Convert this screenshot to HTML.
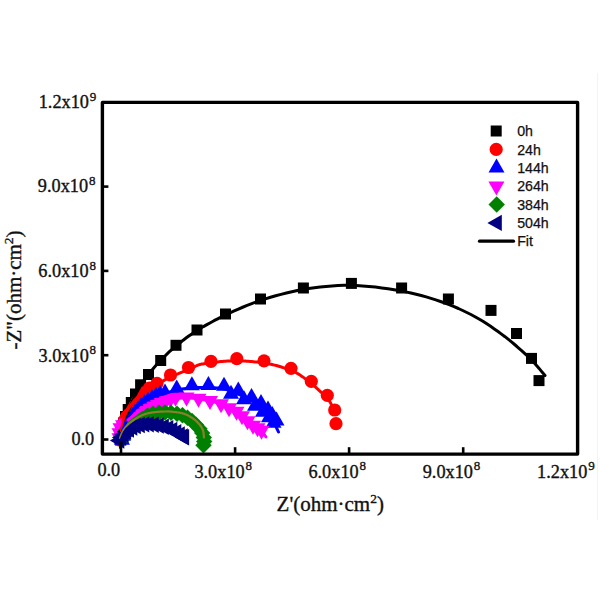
<!DOCTYPE html>
<html><head><meta charset="utf-8"><style>
html,body{margin:0;padding:0;background:#fff;}
svg{display:block;}
.serif text{font-family:"Liberation Serif",serif;}
.sans text{font-family:"Liberation Sans",sans-serif;}
</style></head><body>
<svg width="600" height="600" viewBox="0 0 600 600">
<rect width="600" height="600" fill="#fff"/>
<line x1="597.5" y1="73" x2="597.5" y2="520" stroke="#f3f3f3" stroke-width="1"/>
<g><g><rect x="115.0" y="434.5" width="11.0" height="11.0" fill="#000000"/><rect x="115.5" y="429.5" width="11.0" height="11.0" fill="#000000"/><rect x="116.5" y="424.0" width="11.0" height="11.0" fill="#000000"/><rect x="118.0" y="417.5" width="11.0" height="11.0" fill="#000000"/><rect x="120.0" y="411.0" width="11.0" height="11.0" fill="#000000"/><rect x="122.7" y="404.0" width="11.0" height="11.0" fill="#000000"/><rect x="125.8" y="397.0" width="11.0" height="11.0" fill="#000000"/><rect x="130.0" y="388.5" width="11.0" height="11.0" fill="#000000"/><rect x="135.1" y="379.3" width="11.0" height="11.0" fill="#000000"/><rect x="143.0" y="369.0" width="11.0" height="11.0" fill="#000000"/><rect x="155.2" y="355.0" width="11.0" height="11.0" fill="#000000"/><rect x="170.5" y="339.8" width="11.0" height="11.0" fill="#000000"/><rect x="191.5" y="324.5" width="11.0" height="11.0" fill="#000000"/><rect x="220.0" y="308.5" width="11.0" height="11.0" fill="#000000"/><rect x="255.0" y="293.5" width="11.0" height="11.0" fill="#000000"/><rect x="297.9" y="282.5" width="11.0" height="11.0" fill="#000000"/><rect x="345.9" y="277.9" width="11.0" height="11.0" fill="#000000"/><rect x="396.1" y="282.5" width="11.0" height="11.0" fill="#000000"/><rect x="442.9" y="293.5" width="11.0" height="11.0" fill="#000000"/><rect x="485.5" y="304.9" width="11.0" height="11.0" fill="#000000"/><rect x="511.0" y="328.0" width="11.0" height="11.0" fill="#000000"/><rect x="526.0" y="352.9" width="11.0" height="11.0" fill="#000000"/><rect x="533.5" y="375.1" width="11.0" height="11.0" fill="#000000"/></g>
<g><circle cx="120.0" cy="440.0" r="6.6" fill="#ff0000"/><circle cx="120.2" cy="436.0" r="6.6" fill="#ff0000"/><circle cx="120.8" cy="432.0" r="6.6" fill="#ff0000"/><circle cx="121.8" cy="428.0" r="6.6" fill="#ff0000"/><circle cx="123.0" cy="424.0" r="6.6" fill="#ff0000"/><circle cx="124.5" cy="420.5" r="6.6" fill="#ff0000"/><circle cx="126.4" cy="417.0" r="6.6" fill="#ff0000"/><circle cx="129.0" cy="414.5" r="6.6" fill="#ff0000"/><circle cx="131.4" cy="412.0" r="6.6" fill="#ff0000"/><circle cx="133.2" cy="409.0" r="6.6" fill="#ff0000"/><circle cx="135.0" cy="406.0" r="6.6" fill="#ff0000"/><circle cx="137.5" cy="401.5" r="6.6" fill="#ff0000"/><circle cx="140.5" cy="397.2" r="6.6" fill="#ff0000"/><circle cx="144.5" cy="392.5" r="6.6" fill="#ff0000"/><circle cx="149.5" cy="388.0" r="6.6" fill="#ff0000"/><circle cx="157.0" cy="383.3" r="6.6" fill="#ff0000"/><circle cx="170.5" cy="375.0" r="6.6" fill="#ff0000"/><circle cx="188.5" cy="367.5" r="6.6" fill="#ff0000"/><circle cx="211.0" cy="361.3" r="6.6" fill="#ff0000"/><circle cx="236.8" cy="358.7" r="6.6" fill="#ff0000"/><circle cx="264.0" cy="360.8" r="6.6" fill="#ff0000"/><circle cx="291.0" cy="368.3" r="6.6" fill="#ff0000"/><circle cx="311.3" cy="381.3" r="6.6" fill="#ff0000"/><circle cx="327.3" cy="395.3" r="6.6" fill="#ff0000"/><circle cx="334.7" cy="410.0" r="6.6" fill="#ff0000"/><circle cx="336.0" cy="423.7" r="6.6" fill="#ff0000"/></g>
<g><path d="M122.0,430.7L130.0,444.7L114.0,444.7Z" fill="#0000ff"/><path d="M123.0,426.7L131.0,440.7L115.0,440.7Z" fill="#0000ff"/><path d="M124.5,422.7L132.5,436.7L116.5,436.7Z" fill="#0000ff"/><path d="M126.0,418.7L134.0,432.7L118.0,432.7Z" fill="#0000ff"/><path d="M128.0,414.7L136.0,428.7L120.0,428.7Z" fill="#0000ff"/><path d="M130.0,410.7L138.0,424.7L122.0,424.7Z" fill="#0000ff"/><path d="M132.5,407.2L140.5,421.2L124.5,421.2Z" fill="#0000ff"/><path d="M135.0,403.7L143.0,417.7L127.0,417.7Z" fill="#0000ff"/><path d="M138.0,400.2L146.0,414.2L130.0,414.2Z" fill="#0000ff"/><path d="M141.0,397.2L149.0,411.2L133.0,411.2Z" fill="#0000ff"/><path d="M144.5,394.2L152.5,408.2L136.5,408.2Z" fill="#0000ff"/><path d="M148.0,391.7L156.0,405.7L140.0,405.7Z" fill="#0000ff"/><path d="M152.0,389.2L160.0,403.2L144.0,403.2Z" fill="#0000ff"/><path d="M156.0,386.7L164.0,400.7L148.0,400.7Z" fill="#0000ff"/><path d="M160.0,385.0L168.0,399.0L152.0,399.0Z" fill="#0000ff"/><path d="M165.0,383.4L173.0,397.4L157.0,397.4Z" fill="#0000ff"/><path d="M176.7,379.6L184.7,393.6L168.7,393.6Z" fill="#0000ff"/><path d="M191.9,376.3L199.9,390.3L183.9,390.3Z" fill="#0000ff"/><path d="M208.4,375.9L216.4,389.9L200.4,389.9Z" fill="#0000ff"/><path d="M224.0,376.8L232.0,390.8L216.0,390.8Z" fill="#0000ff"/><path d="M231.0,384.7L239.0,398.7L223.0,398.7Z" fill="#0000ff"/><path d="M238.3,381.4L246.3,395.4L230.3,395.4Z" fill="#0000ff"/><path d="M244.0,390.2L252.0,404.2L236.0,404.2Z" fill="#0000ff"/><path d="M251.5,387.9L259.5,401.9L243.5,401.9Z" fill="#0000ff"/><path d="M255.0,396.7L263.0,410.7L247.0,410.7Z" fill="#0000ff"/><path d="M261.0,393.9L269.0,407.9L253.0,407.9Z" fill="#0000ff"/><path d="M263.0,402.7L271.0,416.7L255.0,416.7Z" fill="#0000ff"/><path d="M268.0,400.4L276.0,414.4L260.0,414.4Z" fill="#0000ff"/><path d="M269.0,408.2L277.0,422.2L261.0,422.2Z" fill="#0000ff"/><path d="M272.3,405.9L280.3,419.9L264.3,419.9Z" fill="#0000ff"/><path d="M273.5,413.7L281.5,427.7L265.5,427.7Z" fill="#0000ff"/><path d="M276.5,411.4L284.5,425.4L268.5,425.4Z" fill="#0000ff"/></g>
<g><path d="M119.5,447.3L127.5,433.3L111.5,433.3Z" fill="#ff00ff"/><path d="M119.5,442.3L127.5,428.3L111.5,428.3Z" fill="#ff00ff"/><path d="M120.5,437.3L128.5,423.3L112.5,423.3Z" fill="#ff00ff"/><path d="M123.0,434.3L131.0,420.3L115.0,420.3Z" fill="#ff00ff"/><path d="M126.5,432.6L134.5,418.6L118.5,418.6Z" fill="#ff00ff"/><path d="M130.0,431.6L138.0,417.6L122.0,417.6Z" fill="#ff00ff"/><path d="M134.0,428.8L142.0,414.8L126.0,414.8Z" fill="#ff00ff"/><path d="M138.0,425.6L146.0,411.6L130.0,411.6Z" fill="#ff00ff"/><path d="M142.0,422.6L150.0,408.6L134.0,408.6Z" fill="#ff00ff"/><path d="M146.0,420.1L154.0,406.1L138.0,406.1Z" fill="#ff00ff"/><path d="M150.0,417.6L158.0,403.6L142.0,403.6Z" fill="#ff00ff"/><path d="M154.0,415.5L162.0,401.5L146.0,401.5Z" fill="#ff00ff"/><path d="M157.8,413.7L165.8,399.7L149.8,399.7Z" fill="#ff00ff"/><path d="M161.5,411.8L169.5,397.8L153.5,397.8Z" fill="#ff00ff"/><path d="M166.0,409.8L174.0,395.8L158.0,395.8Z" fill="#ff00ff"/><path d="M170.5,408.0L178.5,394.0L162.5,394.0Z" fill="#ff00ff"/><path d="M175.5,406.7L183.5,392.7L167.5,392.7Z" fill="#ff00ff"/><path d="M186.5,406.6L194.5,392.6L178.5,392.6Z" fill="#ff00ff"/><path d="M198.5,407.8L206.5,393.8L190.5,393.8Z" fill="#ff00ff"/><path d="M210.0,410.1L218.0,396.1L202.0,396.1Z" fill="#ff00ff"/><path d="M221.0,413.3L229.0,399.3L213.0,399.3Z" fill="#ff00ff"/><path d="M229.0,417.3L237.0,403.3L221.0,403.3Z" fill="#ff00ff"/><path d="M236.5,420.8L244.5,406.8L228.5,406.8Z" fill="#ff00ff"/><path d="M242.0,425.3L250.0,411.3L234.0,411.3Z" fill="#ff00ff"/><path d="M247.5,430.3L255.5,416.3L239.5,416.3Z" fill="#ff00ff"/><path d="M253.0,434.8L261.0,420.8L245.0,420.8Z" fill="#ff00ff"/><path d="M257.5,437.3L265.5,423.3L249.5,423.3Z" fill="#ff00ff"/><path d="M261.5,439.8L269.5,425.8L253.5,425.8Z" fill="#ff00ff"/></g>
<g><path d="M121.0,431.8L129.2,440.0L121.0,448.2L112.8,440.0Z" fill="#008000"/><path d="M122.5,427.3L130.7,435.5L122.5,443.7L114.3,435.5Z" fill="#008000"/><path d="M125.0,423.0L133.2,431.2L125.0,439.4L116.8,431.2Z" fill="#008000"/><path d="M128.5,419.1L136.7,427.3L128.5,435.5L120.3,427.3Z" fill="#008000"/><path d="M132.5,415.6L140.7,423.8L132.5,432.0L124.3,423.8Z" fill="#008000"/><path d="M137.0,412.6L145.2,420.8L137.0,429.0L128.8,420.8Z" fill="#008000"/><path d="M142.0,409.8L150.2,418.0L142.0,426.2L133.8,418.0Z" fill="#008000"/><path d="M147.5,407.3L155.7,415.5L147.5,423.7L139.3,415.5Z" fill="#008000"/><path d="M153.0,405.6L161.2,413.8L153.0,422.0L144.8,413.8Z" fill="#008000"/><path d="M159.0,404.6L167.2,412.8L159.0,421.0L150.8,412.8Z" fill="#008000"/><path d="M165.0,404.3L173.2,412.5L165.0,420.7L156.8,412.5Z" fill="#008000"/><path d="M171.0,404.6L179.2,412.8L171.0,421.0L162.8,412.8Z" fill="#008000"/><path d="M177.0,405.5L185.2,413.7L177.0,421.9L168.8,413.7Z" fill="#008000"/><path d="M182.5,407.1L190.7,415.3L182.5,423.5L174.3,415.3Z" fill="#008000"/><path d="M187.5,409.6L195.7,417.8L187.5,426.0L179.3,417.8Z" fill="#008000"/><path d="M192.0,412.8L200.2,421.0L192.0,429.2L183.8,421.0Z" fill="#008000"/><path d="M196.0,416.5L204.2,424.7L196.0,432.9L187.8,424.7Z" fill="#008000"/><path d="M199.5,420.5L207.7,428.7L199.5,436.9L191.3,428.7Z" fill="#008000"/><path d="M202.2,424.8L210.4,433.0L202.2,441.2L194.0,433.0Z" fill="#008000"/><path d="M203.8,429.3L212.0,437.5L203.8,445.7L195.6,437.5Z" fill="#008000"/><path d="M204.2,433.3L212.4,441.5L204.2,449.7L196.0,441.5Z" fill="#008000"/><path d="M203.5,437.0L211.7,445.2L203.5,453.4L195.3,445.2Z" fill="#008000"/></g>
<g><path d="M109.9,440.5L124.3,432.3L124.3,448.7Z" fill="#000080"/><path d="M111.9,437.5L126.3,429.3L126.3,445.7Z" fill="#000080"/><path d="M114.2,434.5L128.6,426.3L128.6,442.7Z" fill="#000080"/><path d="M116.7,431.8L131.1,423.6L131.1,440.0Z" fill="#000080"/><path d="M119.6,429.5L134.0,421.3L134.0,437.7Z" fill="#000080"/><path d="M122.9,427.5L137.3,419.3L137.3,435.7Z" fill="#000080"/><path d="M126.4,426.0L140.8,417.8L140.8,434.2Z" fill="#000080"/><path d="M130.4,425.0L144.8,416.8L144.8,433.2Z" fill="#000080"/><path d="M134.9,424.4L149.3,416.2L149.3,432.6Z" fill="#000080"/><path d="M139.4,424.3L153.8,416.1L153.8,432.5Z" fill="#000080"/><path d="M144.4,424.7L158.8,416.5L158.8,432.9Z" fill="#000080"/><path d="M149.4,425.5L163.8,417.3L163.8,433.7Z" fill="#000080"/><path d="M154.4,426.7L168.8,418.5L168.8,434.9Z" fill="#000080"/><path d="M158.9,428.2L173.3,420.0L173.3,436.4Z" fill="#000080"/><path d="M162.9,430.0L177.3,421.8L177.3,438.2Z" fill="#000080"/><path d="M166.9,432.2L181.3,424.0L181.3,440.4Z" fill="#000080"/><path d="M170.4,434.5L184.8,426.3L184.8,442.7Z" fill="#000080"/><path d="M173.4,436.5L187.8,428.3L187.8,444.7Z" fill="#000080"/><path d="M174.7,437.2L189.1,429.0L189.1,445.4Z" fill="#000080"/></g>
<path d="M120.5,447.5 L120.6,446.7 L120.7,445.6 L120.9,444.3 L121.0,442.9 L121.2,441.4 L121.4,439.8 L121.6,438.4 L121.8,437.0 L122.0,435.7 L122.2,434.5 L122.4,433.2 L122.5,432.0 L122.7,430.7 L123.0,429.5 L123.2,428.2 L123.5,427.0 L123.8,425.8 L124.1,424.5 L124.5,423.2 L124.9,422.0 L125.3,420.8 L125.7,419.5 L126.1,418.2 L126.5,417.0 L126.9,415.8 L127.3,414.5 L127.7,413.2 L128.2,412.0 L128.6,410.8 L129.0,409.5 L129.5,408.2 L130.0,407.0 L130.5,405.8 L131.0,404.5 L131.5,403.3 L132.1,402.1 L132.6,400.9 L133.2,399.6 L133.8,398.3 L134.5,397.0 L135.2,395.6 L136.0,394.1 L136.7,392.6 L137.6,391.0 L138.4,389.5 L139.3,387.9 L140.1,386.4 L141.0,385.0 L141.9,383.6 L142.7,382.3 L143.6,381.1 L144.4,379.8 L145.4,378.6 L146.3,377.3 L147.4,375.9 L148.5,374.5 L149.7,373.0 L151.0,371.4 L152.3,369.7 L153.7,368.0 L155.2,366.3 L156.7,364.6 L158.3,362.8 L160.0,361.0 L161.8,359.2 L163.6,357.4 L165.5,355.5 L167.4,353.6 L169.4,351.7 L171.5,349.8 L173.7,347.9 L176.0,346.0 L178.3,344.1 L180.7,342.2 L183.2,340.2 L185.7,338.3 L188.4,336.3 L191.1,334.4 L194.0,332.4 L197.0,330.5 L200.2,328.6 L203.4,326.6 L206.9,324.6 L210.4,322.7 L214.0,320.7 L217.7,318.8 L221.6,316.9 L225.5,315.0 L229.5,313.1 L233.6,311.2 L237.8,309.3 L242.1,307.5 L246.5,305.6 L251.1,303.9 L255.7,302.1 L260.5,300.5 L265.4,298.9 L270.5,297.3 L275.7,295.8 L281.0,294.4 L286.4,293.0 L291.9,291.7 L297.4,290.5 L303.0,289.5 L308.6,288.6 L314.4,287.7 L320.2,287.0 L326.0,286.4 L332.0,285.9 L337.9,285.5 L344.0,285.3 L350.0,285.3 L356.2,285.5 L362.5,285.9 L368.9,286.4 L375.4,287.1 L381.8,287.9 L388.1,288.8 L394.2,289.8 L400.0,290.8 L405.6,291.9 L410.9,293.0 L416.1,294.2 L421.2,295.5 L426.2,296.9 L431.0,298.4 L435.8,299.9 L440.5,301.5 L445.1,303.2 L449.7,304.9 L454.1,306.7 L458.4,308.5 L462.7,310.5 L466.8,312.5 L470.9,314.5 L475.0,316.7 L479.0,319.0 L482.9,321.3 L486.8,323.8 L490.6,326.3 L494.3,328.9 L498.0,331.5 L501.5,334.1 L505.0,336.7 L508.4,339.4 L511.8,342.1 L515.2,345.0 L518.4,347.8 L521.6,350.6 L524.6,353.3 L527.4,356.0 L530.0,358.5 L532.5,361.0 L534.8,363.5 L537.0,366.0 L539.1,368.4 L540.9,370.6 L542.5,372.6 L543.9,374.2 L545.0,375.5" fill="none" stroke="#000000" stroke-width="3.0" stroke-linejoin="round" stroke-linecap="round"/>
<path d="M121.5,431.0 L121.5,430.7 L121.6,430.3 L121.6,429.9 L121.7,429.4 L121.8,428.8 L121.8,428.2 L121.9,427.6 L122.0,427.0 L122.1,426.3 L122.2,425.6 L122.3,424.9 L122.4,424.1 L122.5,423.3 L122.7,422.5 L122.8,421.8 L123.0,421.0 L123.2,420.3 L123.4,419.5 L123.6,418.8 L123.8,418.0 L124.1,417.3 L124.4,416.5 L124.7,415.8 L125.0,415.0 L125.4,414.2 L125.7,413.4 L126.1,412.6 L126.5,411.8 L127.0,411.0 L127.4,410.2 L128.0,409.4 L128.5,408.5 L129.1,407.6 L129.7,406.7 L130.4,405.7 L131.0,404.8 L131.7,403.8 L132.5,402.9 L133.2,401.9 L134.0,401.0 L134.8,400.1 L135.6,399.2 L136.5,398.3 L137.4,397.3 L138.3,396.5 L139.2,395.6 L140.1,394.8 L141.0,394.0 L141.9,393.3 L142.7,392.6 L143.5,392.0 L144.4,391.3 L145.2,390.8 L146.1,390.2 L147.0,389.6 L148.0,389.0 L149.0,388.4 L150.0,387.9 L151.0,387.4 L152.1,386.9 L153.2,386.4 L154.4,385.8 L155.6,385.2 L157.0,384.5 L158.4,383.7 L160.0,382.8 L161.5,381.9 L163.2,380.9 L164.9,379.9 L166.7,378.9 L168.6,378.0 L170.5,377.0 L172.6,376.0 L174.8,375.1 L177.2,374.1 L179.6,373.1 L182.0,372.1 L184.4,371.2 L186.5,370.3 L188.5,369.5 L190.3,368.7 L191.8,368.0 L193.3,367.3 L194.7,366.6 L196.0,366.0 L197.3,365.4 L198.6,364.9 L200.0,364.5 L201.4,364.1 L202.7,363.9 L204.1,363.7 L205.4,363.5 L206.8,363.4 L208.1,363.3 L209.5,363.2 L211.0,363.0 L212.5,362.8 L214.1,362.6 L215.7,362.3 L217.4,362.1 L219.0,361.8 L220.7,361.6 L222.4,361.4 L224.0,361.3 L225.6,361.2 L227.2,361.1 L228.9,361.1 L230.5,361.0 L232.1,361.0 L233.8,361.0 L235.4,361.0 L237.0,361.0 L238.6,361.0 L240.2,361.0 L241.8,361.0 L243.4,361.1 L245.1,361.1 L246.7,361.2 L248.3,361.3 L250.0,361.4 L251.7,361.5 L253.4,361.7 L255.2,361.9 L256.9,362.0 L258.7,362.2 L260.5,362.5 L262.2,362.7 L264.0,363.0 L265.8,363.3 L267.5,363.6 L269.3,364.0 L271.1,364.3 L272.8,364.7 L274.6,365.1 L276.3,365.5 L278.0,366.0 L279.7,366.5 L281.4,367.0 L283.1,367.6 L284.8,368.2 L286.5,368.7 L288.1,369.3 L289.6,369.9 L291.0,370.5 L292.3,371.0 L293.5,371.5 L294.6,372.0 L295.6,372.5 L296.6,373.0 L297.7,373.6 L298.8,374.2 L300.0,375.0 L301.3,375.9 L302.8,376.9 L304.4,378.1 L305.9,379.3 L307.4,380.5 L308.9,381.6 L310.2,382.6 L311.3,383.5 L312.2,384.2 L312.9,384.7 L313.4,385.2 L313.9,385.6 L314.3,385.9 L314.7,386.4 L315.3,386.9 L316.0,387.5 L316.9,388.3 L317.8,389.1 L318.8,390.1 L319.9,391.1 L321.0,392.1 L322.1,393.1 L323.1,394.1 L324.0,395.0 L324.9,395.9 L325.7,396.8 L326.5,397.6 L327.2,398.5 L328.0,399.3 L328.7,400.2 L329.4,401.1 L330.0,402.0 L330.6,403.0 L331.2,404.1 L331.8,405.3 L332.4,406.4 L332.9,407.5 L333.3,408.5 L333.7,409.4 L334.0,410.0" fill="none" stroke="#ff0000" stroke-width="3.0" stroke-linejoin="round" stroke-linecap="round"/>
<path d="M121.0,440.0 L121.1,439.2 L121.3,438.2 L121.5,437.0 L121.8,435.6 L122.0,434.2 L122.3,432.7 L122.6,431.3 L123.0,430.0 L123.4,428.7 L123.8,427.5 L124.3,426.2 L124.8,424.9 L125.3,423.7 L125.8,422.4 L126.4,421.2 L127.0,420.0 L127.6,418.8 L128.3,417.6 L129.0,416.5 L129.8,415.3 L130.5,414.2 L131.3,413.1 L132.1,412.0 L133.0,411.0 L133.9,410.0 L134.8,409.1 L135.7,408.2 L136.7,407.3 L137.7,406.5 L138.7,405.7 L139.8,404.8 L141.0,404.0 L142.2,403.1 L143.5,402.3 L144.8,401.4 L146.2,400.6 L147.6,399.7 L149.0,398.9 L150.5,398.2 L152.0,397.5 L153.5,396.9 L155.1,396.3 L156.8,395.8 L158.5,395.3 L160.1,394.9 L161.8,394.4 L163.4,394.0 L165.0,393.5 L166.5,393.0 L167.9,392.6 L169.3,392.1 L170.7,391.6 L172.1,391.2 L173.6,390.8 L175.1,390.4 L176.7,390.0 L178.4,389.7 L180.2,389.4 L182.1,389.1 L184.0,388.8 L186.0,388.6 L187.9,388.4 L189.9,388.2 L191.9,388.0 L193.9,387.9 L196.0,387.7 L198.0,387.6 L200.1,387.5 L202.2,387.5 L204.3,387.4 L206.4,387.5 L208.4,387.5 L210.4,387.6 L212.4,387.7 L214.4,387.8 L216.3,387.9 L218.3,388.1 L220.2,388.3 L222.1,388.6 L224.0,389.0 L225.9,389.4 L227.7,390.0 L229.5,390.5 L231.3,391.2 L233.1,391.8 L234.8,392.5 L236.6,393.3 L238.3,394.0 L240.0,394.8 L241.8,395.6 L243.5,396.5 L245.2,397.4 L246.9,398.3 L248.5,399.2 L250.0,400.1 L251.5,401.0 L252.9,401.8 L254.2,402.7 L255.4,403.5 L256.6,404.3 L257.8,405.1 L258.9,405.9 L260.0,406.7 L261.0,407.5 L262.0,408.3 L263.0,409.1 L263.9,409.9 L264.8,410.7 L265.6,411.5 L266.4,412.3 L267.2,413.2 L268.0,414.0 L268.7,414.8 L269.4,415.6 L270.0,416.4 L270.6,417.2 L271.2,418.1 L271.8,419.0 L272.4,419.9 L273.0,421.0 L273.7,422.3 L274.5,423.7 L275.3,425.3 L276.1,426.9 L276.8,428.5 L277.5,429.9 L278.1,431.1 L278.5,432.0" fill="none" stroke="#0000ff" stroke-width="3.0" stroke-linejoin="round" stroke-linecap="round"/>
<path d="M128.0,420.0 L128.5,419.6 L129.2,419.0 L130.0,418.4 L130.9,417.7 L131.8,416.9 L132.9,416.1 L133.9,415.3 L135.0,414.5 L136.1,413.7 L137.3,412.8 L138.5,411.9 L139.8,411.0 L141.1,410.0 L142.4,409.1 L143.7,408.3 L145.0,407.5 L146.2,406.8 L147.5,406.1 L148.8,405.4 L150.0,404.7 L151.2,404.1 L152.5,403.5 L153.8,403.0 L155.0,402.5 L156.2,402.1 L157.5,401.7 L158.7,401.3 L159.9,401.0 L161.2,400.8 L162.4,400.5 L163.7,400.2 L165.0,400.0 L166.3,399.8 L167.7,399.5 L169.1,399.3 L170.4,399.1 L171.8,398.9 L173.2,398.8 L174.6,398.6 L176.0,398.5 L177.4,398.4 L178.7,398.3 L180.1,398.2 L181.4,398.1 L182.8,398.0 L184.2,398.0 L185.6,398.0 L187.0,398.0 L188.4,398.0 L189.7,398.1 L191.0,398.1 L192.3,398.2 L193.7,398.3 L195.3,398.4 L197.0,398.7 L199.0,399.0 L201.3,399.4 L204.0,399.9 L206.8,400.5 L209.8,401.1 L212.8,401.7 L215.8,402.4 L218.5,403.2 L221.0,404.0 L223.2,404.8 L225.3,405.8 L227.2,406.7 L229.1,407.8 L230.8,408.8 L232.6,409.9 L234.3,410.9 L236.0,412.0 L237.7,413.1 L239.4,414.2 L241.1,415.3 L242.8,416.5 L244.4,417.6 L245.9,418.8 L247.5,419.9 L249.0,421.0 L250.5,422.1 L252.0,423.2 L253.5,424.3 L254.9,425.3 L256.3,426.4 L257.6,427.5 L258.9,428.5 L260.0,429.5 L261.0,430.5 L262.0,431.6 L262.9,432.7 L263.7,433.8 L264.4,434.8 L265.0,435.7 L265.6,436.4 L266.0,437.0" fill="none" stroke="#ff00ff" stroke-width="3.0" stroke-linejoin="round" stroke-linecap="round"/>
<path d="M120.0,438.0 L120.2,437.4 L120.5,436.7 L120.9,435.8 L121.2,434.8 L121.7,433.8 L122.1,432.8 L122.6,431.9 L123.0,431.0 L123.4,430.2 L123.9,429.5 L124.3,428.8 L124.8,428.1 L125.3,427.5 L125.8,426.8 L126.4,426.2 L127.0,425.5 L127.7,424.8 L128.3,424.2 L129.1,423.5 L129.8,422.9 L130.6,422.3 L131.4,421.7 L132.2,421.1 L133.0,420.5 L133.8,419.9 L134.6,419.4 L135.4,418.9 L136.2,418.4 L137.0,417.9 L137.8,417.4 L138.6,416.9 L139.5,416.5 L140.4,416.1 L141.3,415.6 L142.2,415.2 L143.1,414.8 L144.0,414.5 L145.0,414.1 L146.0,413.8 L147.0,413.5 L148.1,413.2 L149.1,413.0 L150.3,412.8 L151.4,412.6 L152.6,412.4 L153.7,412.3 L154.9,412.1 L156.0,412.0 L157.1,411.9 L158.3,411.8 L159.5,411.7 L160.6,411.6 L161.8,411.6 L162.9,411.6 L164.0,411.5 L165.0,411.5 L165.9,411.5 L166.8,411.5 L167.6,411.4 L168.3,411.4 L169.1,411.5 L169.9,411.5 L170.9,411.6 L172.0,411.7 L173.3,411.9 L174.7,412.0 L176.3,412.2 L177.9,412.5 L179.5,412.7 L181.1,413.0 L182.6,413.4 L184.0,413.8 L185.3,414.3 L186.5,414.8 L187.7,415.3 L188.8,415.9 L189.9,416.5 L191.0,417.2 L192.0,417.8 L193.0,418.5 L194.0,419.2 L194.9,419.9 L195.8,420.7 L196.6,421.4 L197.4,422.2 L198.1,423.0 L198.8,423.7 L199.5,424.5 L200.1,425.2 L200.6,426.0 L201.1,426.7 L201.6,427.4 L202.0,428.2 L202.4,428.9 L202.7,429.7 L203.0,430.5 L203.3,431.4 L203.4,432.3 L203.6,433.4 L203.7,434.4 L203.8,435.3 L203.9,436.2 L203.9,437.0 L204.0,437.5" fill="none" stroke="#88802c" stroke-width="2.2" stroke-linejoin="round" stroke-linecap="round"/>
<path d="M121.0,440.0 L121.5,439.0 L122.1,437.7 L122.7,436.0 L123.5,434.2 L124.4,432.4 L125.5,430.7 L126.7,429.2 L128.0,428.0 L129.5,427.1 L131.2,426.3 L133.1,425.7 L135.1,425.2 L137.1,424.8 L139.2,424.5 L141.4,424.2 L143.5,424.0 L145.6,423.8 L147.9,423.7 L150.2,423.6 L152.5,423.6 L154.8,423.7 L157.1,423.9 L159.3,424.1 L161.5,424.5 L163.6,425.0 L165.8,425.6 L168.0,426.3 L170.1,427.1 L172.1,427.9 L174.1,428.8 L175.9,429.6 L177.5,430.5 L179.0,431.4 L180.4,432.4 L181.6,433.5 L182.8,434.6 L183.8,435.7 L184.6,436.6 L185.4,437.4 L186.0,438.0" fill="none" stroke="#000080" stroke-width="3.0" stroke-linejoin="round" stroke-linecap="round"/></g>
<g><path d="M102.4,102.4 L577.6,102.4 L577.6,454.1 L102.4,454.1 Z" fill="none" stroke="#000" stroke-width="3.4" stroke-linejoin="round"/>
<line x1="121" y1="447.2" x2="121" y2="453" stroke="#000" stroke-width="2.6"/>
<line x1="235.1" y1="447.2" x2="235.1" y2="453" stroke="#000" stroke-width="2.6"/>
<line x1="349.1" y1="447.2" x2="349.1" y2="453" stroke="#000" stroke-width="2.6"/>
<line x1="463.2" y1="447.2" x2="463.2" y2="453" stroke="#000" stroke-width="2.6"/>
<line x1="103" y1="439.5" x2="108.4" y2="439.5" stroke="#000" stroke-width="2.6"/>
<line x1="103" y1="355.2" x2="108.4" y2="355.2" stroke="#000" stroke-width="2.6"/>
<line x1="103" y1="270.9" x2="108.4" y2="270.9" stroke="#000" stroke-width="2.6"/>
<line x1="103" y1="186.6" x2="108.4" y2="186.6" stroke="#000" stroke-width="2.6"/></g>
<g class="serif" font-size="18.3" fill="#111" stroke="#111" stroke-width="0.35"><text x="38.7" y="108.3">1.2x10<tspan font-size="13" dx="0.8" dy="-7.4">9</tspan></text>
<text x="37.8" y="192.4">9.0x10<tspan font-size="13" dx="0.8" dy="-7.4">8</tspan></text>
<text x="38.3" y="277.2">6.0x10<tspan font-size="13" dx="0.8" dy="-7.4">8</tspan></text>
<text x="38.5" y="361.8">3.0x10<tspan font-size="13" dx="0.8" dy="-7.4">8</tspan></text>
<text x="71.4" y="445.4">0.0</text>
<text x="97.4" y="476">0.0</text>
<text x="194.4" y="477.5">3.0x10<tspan font-size="13" dx="0.8" dy="-7.4">8</tspan></text>
<text x="308.4" y="477.5">6.0x10<tspan font-size="13" dx="0.8" dy="-7.4">8</tspan></text>
<text x="422.7" y="477.5">9.0x10<tspan font-size="13" dx="0.8" dy="-7.4">8</tspan></text>
<text x="537.1" y="477.5">1.2x10<tspan font-size="13" dx="0.8" dy="-7.4">9</tspan></text></g>
<g class="serif" fill="#111" stroke="#111" stroke-width="0.35"><text x="276.6" y="511.4" font-size="21">Z'(ohm·cm<tspan font-size="13.5" dy="-8.5">2</tspan><tspan dy="8.5">)</tspan></text>
<text transform="translate(21,349.5) rotate(-90)" x="0" y="0" font-size="21">-Z"(ohm·cm<tspan font-size="13.5" dy="-8.5">2</tspan><tspan dy="8.5">)</tspan></text></g>
<g class="sans" font-size="14.2" fill="#111"><rect x="490.7" y="125.5" width="11.0" height="11.0" fill="#000"/>
<circle cx="496.2" cy="149.4" r="6.6" fill="#ff0000"/>
<path d="M496.5,158.4L504.5,172.4L488.5,172.4Z" fill="#0000ff"/>
<path d="M496.4,195.4L504.4,181.4L488.4,181.4Z" fill="#ff00ff"/>
<path d="M496.7,196.3L504.9,204.5L496.7,212.7L488.5,204.5Z" fill="#008000"/>
<path d="M487.4,222.9L501.8,214.7L501.8,231.1Z" fill="#000080"/>
<line x1="479.5" y1="241.22" x2="513.5" y2="241.22" stroke="#000" stroke-width="3.2" stroke-linecap="round"/>
<text stroke="#111" stroke-width="0.25" x="517.2" y="136.2">0h</text>
<text stroke="#111" stroke-width="0.25" x="517.2" y="154.6">24h</text>
<text stroke="#111" stroke-width="0.25" x="517.2" y="172.9">144h</text>
<text stroke="#111" stroke-width="0.25" x="517.2" y="191.3">264h</text>
<text stroke="#111" stroke-width="0.25" x="517.2" y="209.7">384h</text>
<text stroke="#111" stroke-width="0.25" x="517.2" y="228.1">504h</text>
<text stroke="#111" stroke-width="0.25" x="517.2" y="246.4">Fit</text></g>
</svg>
</body></html>
